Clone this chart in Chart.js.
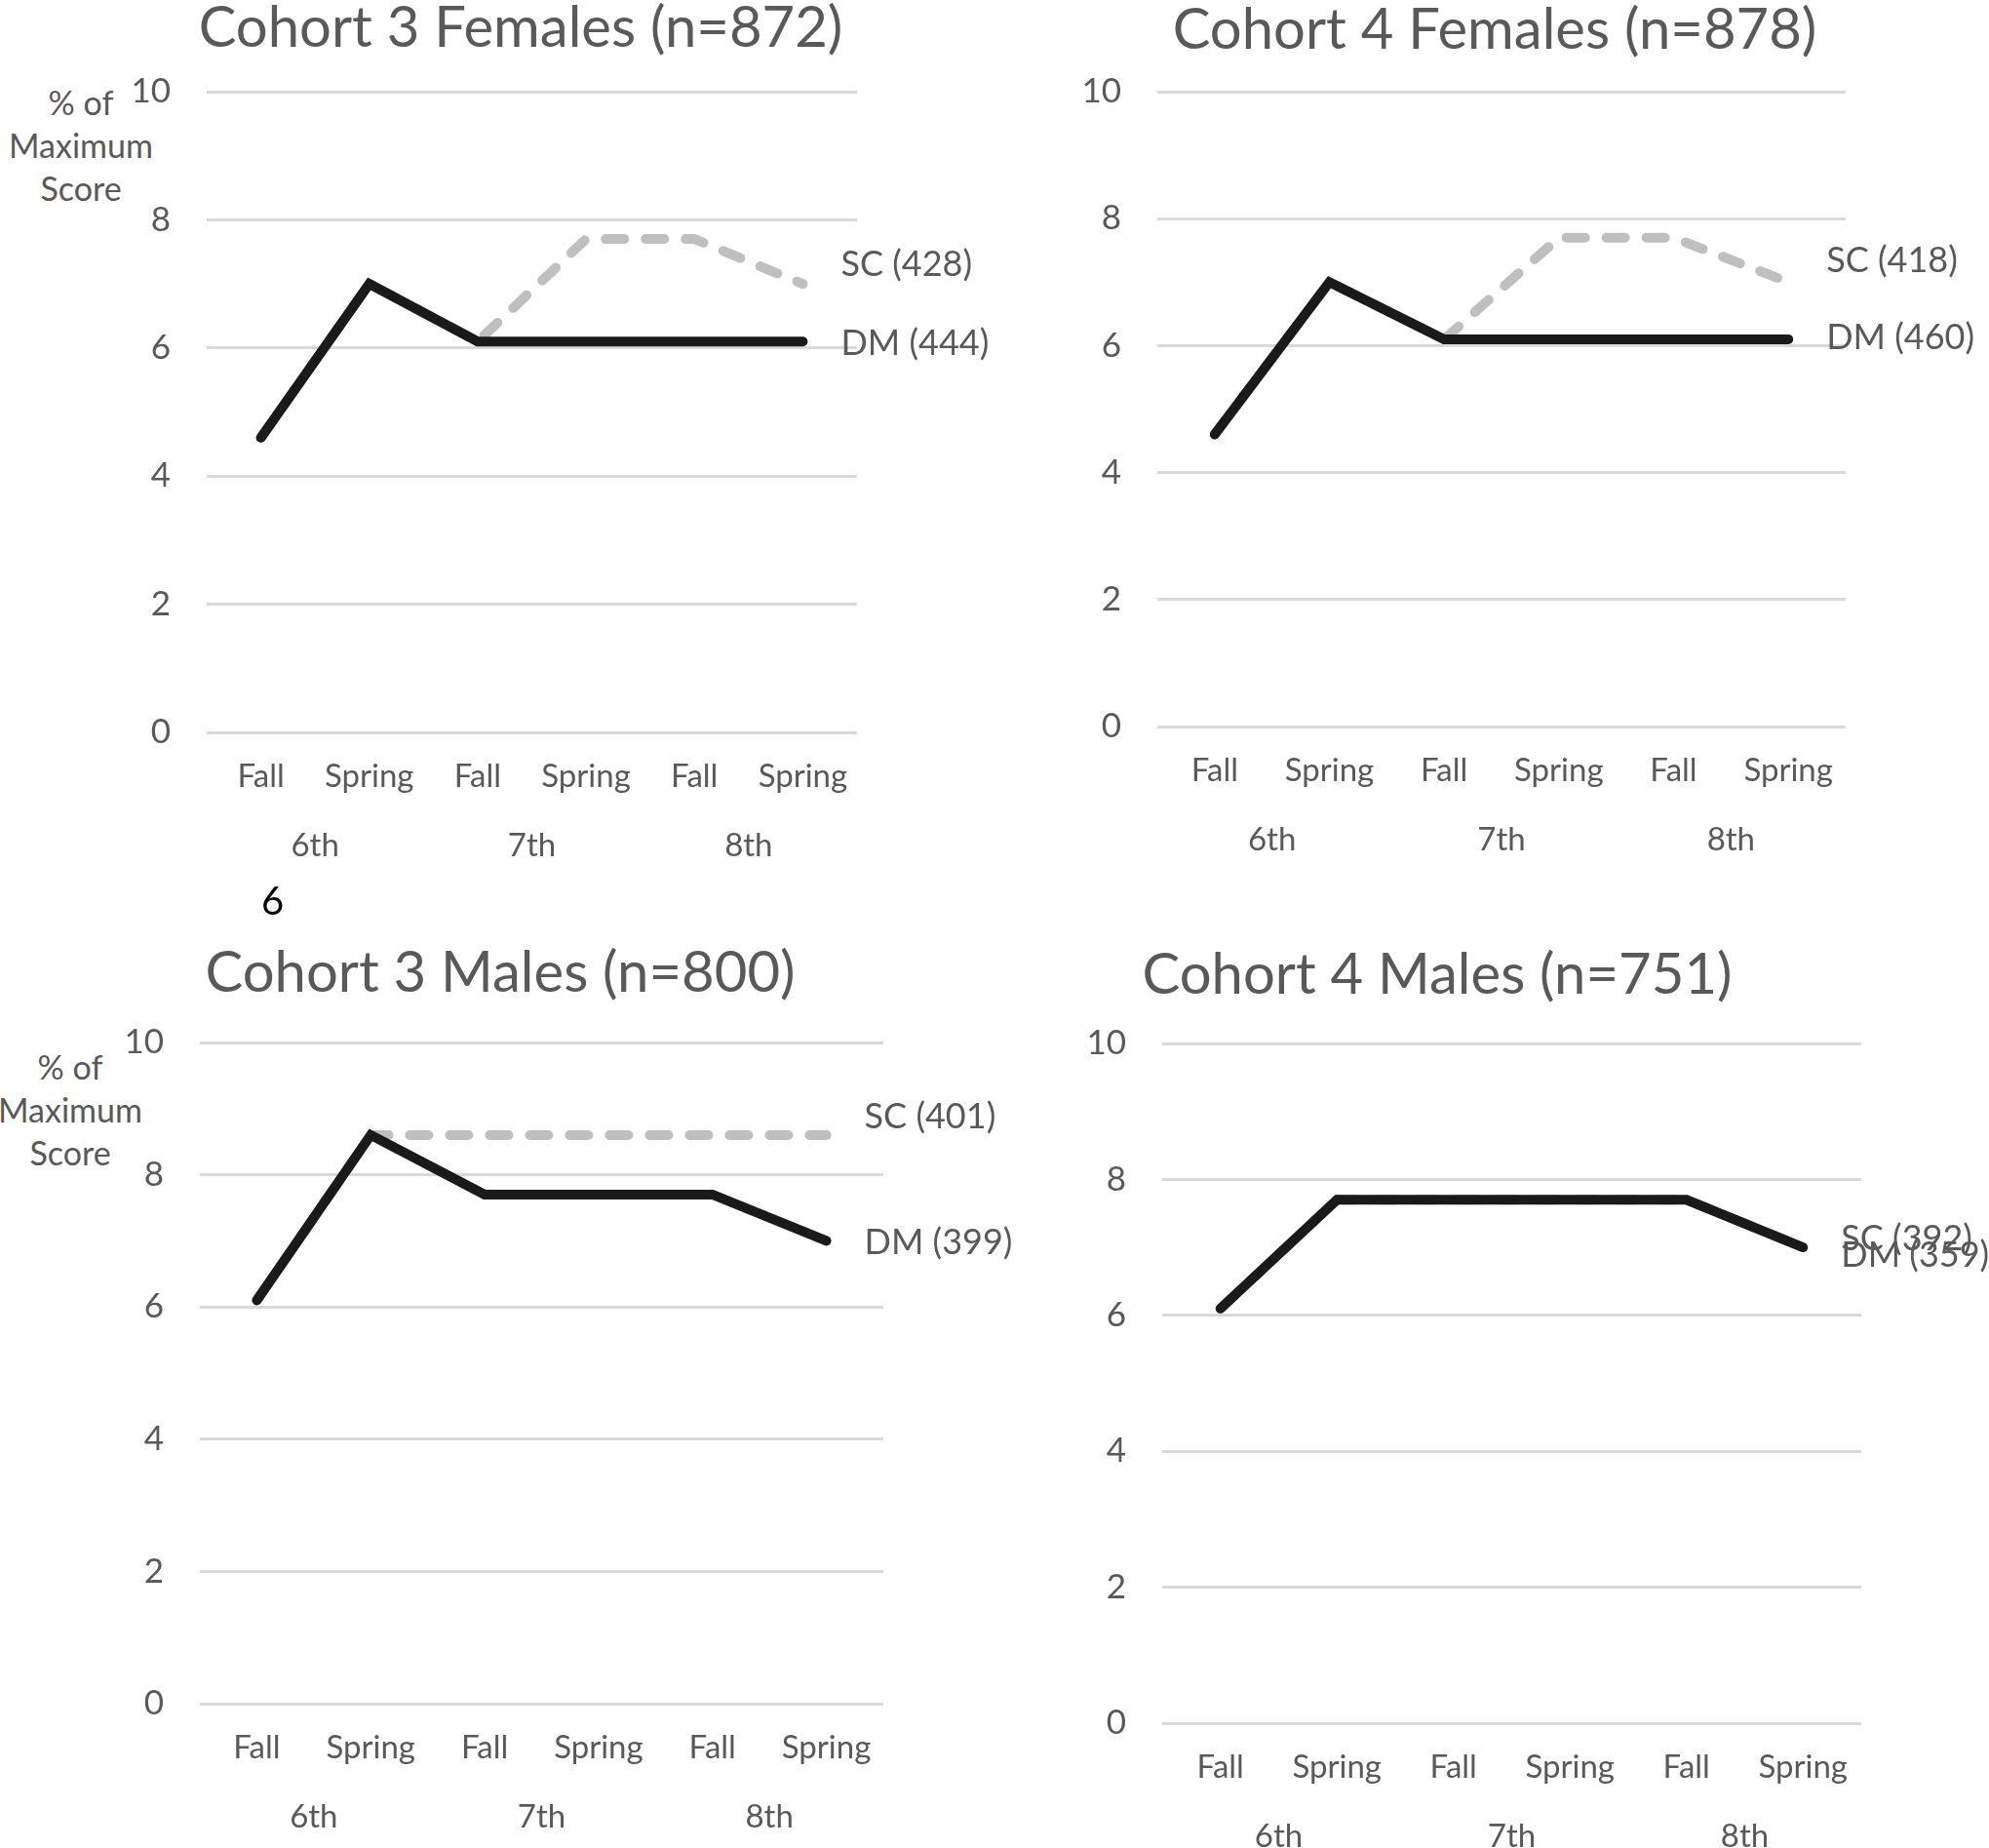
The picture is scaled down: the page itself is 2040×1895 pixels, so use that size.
<!DOCTYPE html>
<html>
<head>
<meta charset="utf-8">
<title>Cohort scores by wave</title>
<script src="https://cdn.jsdelivr.net/npm/chart.js@4.4.1/dist/chart.umd.min.js"></script>
<style>
  html, body { margin: 0; padding: 0; background: #fff; }
  body { width: 2040px; height: 1895px; position: relative; overflow: hidden; font-family: Lato, "Open Sans", sans-serif; }
  canvas { position: absolute; }
  .title { position: absolute; color: #595959; font-size: 58px; line-height: 1; white-space: nowrap; transform: translateX(-50%); }
  .ylab { position: absolute; color: #595959; font-size: 34px; line-height: 44px; text-align: center; white-space: nowrap; transform: translateX(-50%); }
  .stray { position: absolute; color: #000; font-size: 40px; line-height: 1; }
</style>
</head>
<body>
<script>
// category axis labels
const seasons = ["Fall", "Spring", "Fall", "Spring", "Fall", "Spring"];
const grades = ["6th", "7th", "8th"];
const yMin = 0, yMax = 10, yStep = 2;

// % of maximum score
const c3FemDM = [4.6, 7.0, 6.1, 6.1, 6.1, 6.1];
const c3FemSC = [4.6, 7.0, 6.1, 7.7, 7.7, 7.0];
const c4FemDM = [4.6, 7.0, 6.1, 6.1, 6.1, 6.1];
const c4FemSC = [4.6, 7.0, 6.1, 7.7, 7.7, 7.0];
const c3MaleDM = [6.1, 8.6, 7.7, 7.7, 7.7, 7.0];
const c3MaleSC = [6.1, 8.6, 8.6, 8.6, 8.6, 8.6];
const c4MaleDM = [6.1, 7.7, 7.7, 7.7, 7.7, 7.0];
const c4MaleSC = [6.1, 7.7, 7.7, 7.7, 7.7, 7.0];

const titles = ["Cohort 3 Females (n=872)", "Cohort 4 Females (n=878)", "Cohort 3 Males (n=800)", "Cohort 4 Males (n=751)"];
const dmNames = ["DM (444)", "DM (460)", "DM (399)", "DM (359)"];
const scNames = ["SC (428)", "SC (418)", "SC (401)", "SC (392)"];
const yTitle = ["% of", "Maximum", "Score"];

const textColor = "#595959";
const gridColor = "#d9d9d9";
const font = "Lato";

// page layout of the four panels (plot area and the canvas around it)
const panels = [
  { dm: c3FemDM, sc: c3FemSC, box: { left: 0, top: 30, width: 1020, height: 910 },
    area: { left: 212, top: 94, right: 879, bottom: 751 }, titleX: 534, titleTop: -3, ylab: { x: 83, y: 83 }, dy: [2, -20] },
  { dm: c4FemDM, sc: c4FemSC, box: { left: 1020, top: 30, width: 1020, height: 910 },
    area: { left: 1187, top: 94, right: 1893, bottom: 745 }, titleX: 1533, titleTop: -1, ylab: null, dy: [-1, -22] },
  { dm: c3MaleDM, sc: c3MaleSC, box: { left: 0, top: 1005, width: 1060, height: 890 },
    area: { left: 205, top: 1069, right: 906, bottom: 1747 }, titleX: 513, titleTop: 966, ylab: { x: 72, y: 1072 }, dy: [2, -19] },
  { dm: c4MaleDM, sc: c4MaleSC, box: { left: 1020, top: 1005, width: 1020, height: 890 },
    area: { left: 1192, top: 1070, right: 1909, bottom: 1767 }, titleX: 1474, titleTop: 968, ylab: null, dy: [8, -9] },
];

const endLabels = {
  id: "endLabels",
  afterDatasetsDraw(chart, args, opts) {
    const ctx = chart.ctx;
    ctx.save();
    ctx.font = opts.size + "px " + font;
    ctx.fillStyle = textColor;
    ctx.textAlign = "left";
    ctx.textBaseline = "middle";
    chart.data.datasets.forEach((ds, i) => {
      const pts = chart.getDatasetMeta(i).data;
      const last = pts[pts.length - 1];
      ctx.fillText(ds.label, last.x + opts.dx, last.y + opts.dy[i]);
    });
    ctx.restore();
  },
};

const x1Height = 70;

panels.forEach((p, k) => {
  const t = document.createElement("div");
  t.className = "title";
  t.textContent = titles[k];
  t.style.left = p.titleX + "px";
  t.style.top = p.titleTop + "px";
  document.body.appendChild(t);

  if (p.ylab) {
    const yl = document.createElement("div");
    yl.className = "ylab";
    yl.innerHTML = yTitle.join("<br>");
    yl.style.left = p.ylab.x + "px";
    yl.style.top = p.ylab.y + "px";
    document.body.appendChild(yl);
  }

  const canvas = document.createElement("canvas");
  canvas.width = p.box.width;
  canvas.height = p.box.height;
  canvas.style.left = p.box.left + "px";
  canvas.style.top = p.box.top + "px";
  document.body.appendChild(canvas);

  // second label row takes whatever is left under the first one
  const yWidth = p.area.left - p.box.left;
  const x2Height = p.box.top + p.box.height - p.area.bottom - x1Height;
  const pad = {
    left: 0,
    right: p.box.left + p.box.width - p.area.right,
    top: p.area.top - p.box.top,
    bottom: 0,
  };

  new Chart(canvas.getContext("2d"), {
    type: "line",
    data: {
      labels: seasons,
      datasets: [
        {
          label: dmNames[k],
          data: p.dm,
          borderColor: "#1a1a1a",
          borderWidth: 10,
          borderCapStyle: "round",
          borderJoinStyle: "miter",
          pointRadius: 0,
          tension: 0,
          fill: false,
        },
        {
          label: scNames[k],
          data: p.sc,
          borderColor: "#bfbfbf",
          borderWidth: 10,
          borderDash: [19, 22],
          borderCapStyle: "round",
          borderJoinStyle: "round",
          pointRadius: 0,
          tension: 0,
          fill: false,
        },
      ],
    },
    options: {
      responsive: false,
      animation: false,
      devicePixelRatio: 1,
      layout: { padding: pad, autoPadding: false },
      plugins: {
        legend: { display: false },
        tooltip: { enabled: false },
        title: { display: false },
        endLabels: { size: 36, dx: 39, dy: p.dy },
      },
      scales: {
        x: {
          type: "category",
          position: "bottom",
          weight: 0,
          offset: true,
          grid: { display: false, drawTicks: false },
          border: { display: false },
          ticks: { color: textColor, font: { family: font, size: 33 }, padding: 26, maxRotation: 0, autoSkip: false },
          afterFit: (s) => { s.height = x1Height; },
        },
        x2: {
          type: "category",
          position: "bottom",
          weight: 1,
          labels: grades,
          offset: true,
          grid: { display: false, drawTicks: false },
          border: { display: false },
          ticks: { color: textColor, font: { family: font, size: 33 }, padding: 27, maxRotation: 0, autoSkip: false },
          afterFit: (s) => { s.height = x2Height; },
        },
        y: {
          min: yMin,
          max: yMax,
          ticks: { stepSize: yStep, color: textColor, font: { family: font, size: 35 }, padding: 37 },
          grid: { color: gridColor, lineWidth: 3, drawTicks: false },
          border: { display: false },
          afterFit: (s) => { s.width = yWidth; },
        },
      },
    },
    plugins: [endLabels],
  });
});

const stray = document.createElement("div");
stray.className = "stray";
stray.textContent = "6";
stray.style.left = "268px";
stray.style.top = "903px";
document.body.appendChild(stray);
</script>
</body>
</html>
